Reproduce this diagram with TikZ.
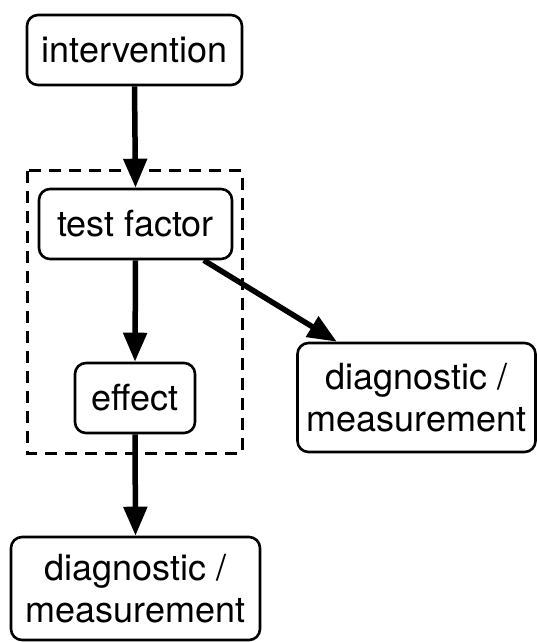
\documentclass[tikz,border=0pt]{standalone}
\usepackage{fontspec}
\setmainfont{TeX Gyre Heros}
\usetikzlibrary{arrows.meta}
\begin{document}
\begin{tikzpicture}[x=1pt,y=-1pt,
  box/.style={draw, line width=2.6pt, rounded corners=11pt, align=center, inner sep=0pt,
    font=\fontsize{36}{42}\selectfont},
  arr/.style={line width=5.5pt, -{Triangle[length=29pt,width=23pt]}},
  grp/.style={line width=2.8pt, dash pattern=on 12pt off 8pt}]
\useasboundingbox (0,0) rectangle (537,642);
\node[minimum width=214pt, minimum height=282pt, inner sep=0pt] (g) at (135,312) {};
\draw[grp] (g.north west) rectangle (g.south east);
\node[box, minimum width=215pt, minimum height=70pt] (iv) at (134.5,50) {intervention};
\node[box, minimum width=193pt, minimum height=70pt] (tf) at (135.5,224) {test factor};
\node[box, minimum width=120pt, minimum height=70pt] (ef) at (135,398) {effect};
\node[box, minimum width=238pt, minimum height=109pt] (rd) at (416.5,397.5) {diagnostic /\\measurement};
\node[box, minimum width=249pt, minimum height=103pt] (bd) at (135.5,588.5) {diagnostic /\\measurement};
\draw[arr] (iv.south) -- (tf.north);
\draw[arr] (tf.south) -- (ef.north);
\draw[arr] (ef.south) -- (bd.north);
\draw[arr] (tf.-28.5) -- (rd.145.3);
\end{tikzpicture}
\end{document}
